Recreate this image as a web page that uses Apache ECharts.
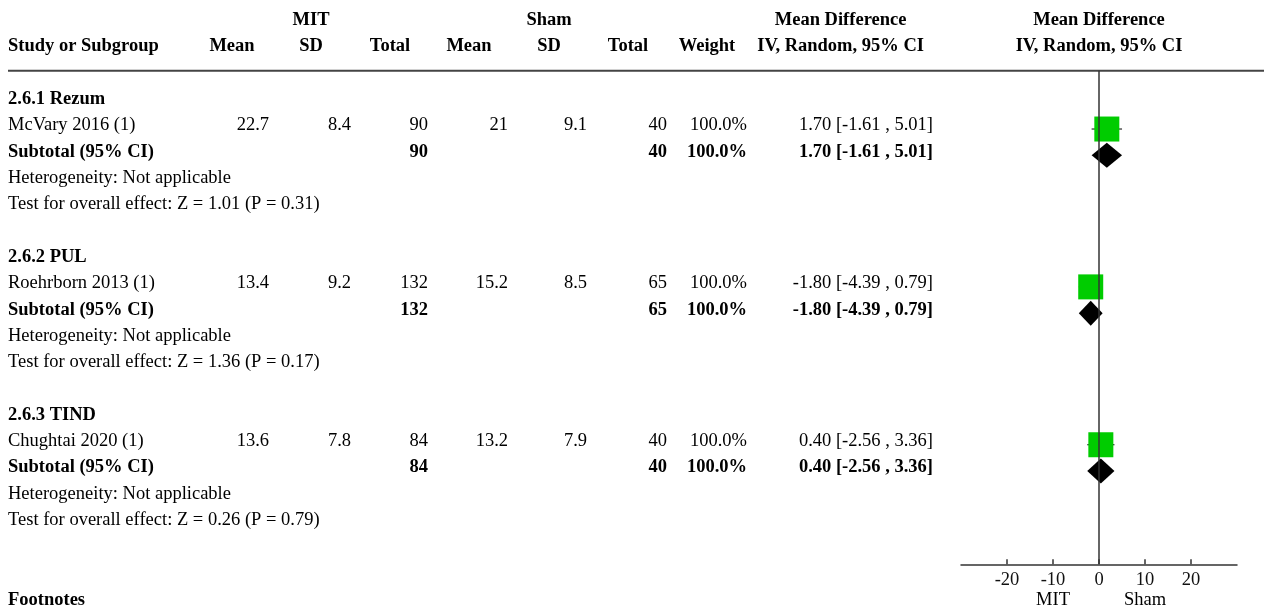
<!DOCTYPE html>
<html>
<head>
<meta charset="utf-8">
<script src="https://cdn.jsdelivr.net/npm/echarts@6/dist/echarts.min.js"></script>
<style>
html,body{margin:0;padding:0;background:#fff;}
#chart{width:1264px;height:612px;}
</style>
</head>
<body>
<div id="chart"></div>
<script>
// ---------- data ----------
const groups = ['2.6.1 Rezum', '2.6.2 PUL', '2.6.3 TIND'];
const studies = ['McVary 2016 (1)', 'Roehrborn 2013 (1)', 'Chughtai 2020 (1)'];
const mitMean = [22.7, 13.4, 13.6];
const mitSD = [8.4, 9.2, 7.8];
const mitN = [90, 132, 84];
const shamMean = [21, 15.2, 13.2];
const shamSD = [9.1, 8.5, 7.9];
const shamN = [40, 65, 40];
const weights = ['100.0%', '100.0%', '100.0%'];
const md = [1.70, -1.80, 0.40];
const ciLow = [-1.61, -4.39, -2.56];
const ciHigh = [5.01, 0.79, 3.36];
const zStat = ['1.01', '1.36', '0.26'];
const pVal = ['0.31', '0.17', '0.79'];
const xTicks = [-20, -10, 0, 10, 20];
const axisSideLabels = [['MIT', -10], ['Sham', 10]];

// ---------- layout ----------
const FONT = '"Liberation Serif","Times New Roman",serif';
const FS = 18.5;
const ROW0 = 99.3, PITCH = 26.31;
const GRID_TOP = 70.7, AXIS_Y = 564.3;
const rowY = r => ROW0 + PITCH * r;
const MARK_OFF = 0.13;
const colRight = {m1: 269, s1: 351, n1: 428, m2: 508, s2: 587, n2: 667, w: 747, ci: 933};
const colHead = {m1: 232, s1: 311, n1: 390, m2: 469, s2: 549, n2: 628, w: 707, ci: 840.6};

const fmt2 = v => v.toFixed(2);
const ciText = i => fmt2(md[i]) + ' [' + fmt2(ciLow[i]) + ' , ' + fmt2(ciHigh[i]) + ']';

const g = [];
function txt(text, x, y, align, bold) {
  g.push({type: 'text', silent: true, style: {text: String(text), x: x, y: y, textAlign: align, textVerticalAlign: 'middle',
    font: (bold ? 'bold ' : '') + FS + 'px ' + FONT, fill: '#000'}});
}
// header
txt('MIT', colHead.s1, 20, 'center', true);
txt('Sham', colHead.s2, 20, 'center', true);
txt('Mean Difference', colHead.ci, 20, 'center', true);
txt('Mean Difference', 1099, 20, 'center', true);
txt('Study or Subgroup', 8, 45.8, 'left', true);
txt('Mean', colHead.m1, 45.8, 'center', true);
txt('SD', colHead.s1, 45.8, 'center', true);
txt('Total', colHead.n1, 45.8, 'center', true);
txt('Mean', colHead.m2, 45.8, 'center', true);
txt('SD', colHead.s2, 45.8, 'center', true);
txt('Total', colHead.n2, 45.8, 'center', true);
txt('Weight', colHead.w, 45.8, 'center', true);
txt('IV, Random, 95% CI', colHead.ci, 45.8, 'center', true);
txt('IV, Random, 95% CI', 1099, 45.8, 'center', true);
g.push({type: 'line', silent: true, shape: {x1: 8, y1: GRID_TOP, x2: 1264, y2: GRID_TOP}, style: {stroke: '#444', lineWidth: 2}});

const squareData = [], diamondData = [];
groups.forEach((name, i) => {
  const b = i * 6;
  txt(name, 8, rowY(b), 'left', true);
  const y1 = rowY(b + 1);
  txt(studies[i], 8, y1, 'left', false);
  txt(mitMean[i], colRight.m1, y1, 'right', false);
  txt(mitSD[i], colRight.s1, y1, 'right', false);
  txt(mitN[i], colRight.n1, y1, 'right', false);
  txt(shamMean[i], colRight.m2, y1, 'right', false);
  txt(shamSD[i], colRight.s2, y1, 'right', false);
  txt(shamN[i], colRight.n2, y1, 'right', false);
  txt(weights[i], colRight.w, y1, 'right', false);
  txt(ciText(i), colRight.ci, y1, 'right', false);
  const y2 = rowY(b + 2);
  txt('Subtotal (95% CI)', 8, y2, 'left', true);
  txt(mitN[i], colRight.n1, y2, 'right', true);
  txt(shamN[i], colRight.n2, y2, 'right', true);
  txt(weights[i], colRight.w, y2, 'right', true);
  txt(ciText(i), colRight.ci, y2, 'right', true);
  txt('Heterogeneity: Not applicable', 8, rowY(b + 3), 'left', false);
  txt('Test for overall effect: Z = ' + zStat[i] + ' (P = ' + pVal[i] + ')', 8, rowY(b + 4), 'left', false);
  squareData.push([md[i], ciLow[i], ciHigh[i], b + 1 + MARK_OFF]);
  diamondData.push([md[i], ciLow[i], ciHigh[i], b + 2 + MARK_OFF]);
});
txt('Footnotes', 8, 600, 'left', true);

const yMin = (GRID_TOP - ROW0) / PITCH, yMax = (AXIS_Y - ROW0) / PITCH;

const chart = echarts.init(document.getElementById('chart'), null, {renderer: 'canvas'});
const option = {
  animation: false,
  backgroundColor: '#fff',
  grid: {left: 961, top: GRID_TOP, width: 276, height: AXIS_Y - GRID_TOP},
  xAxis: {
    type: 'value', min: -30, max: 30, interval: 10, position: 'bottom',
    axisLine: {show: true, onZero: false, lineStyle: {color: '#333', width: 1.5}},
    axisTick: {show: true, inside: true, length: 5, customValues: xTicks, lineStyle: {color: '#333', width: 1.5}},
    axisLabel: {show: true, customValues: xTicks, margin: 6, fontSize: FS, fontFamily: FONT, color: '#111'},
    splitLine: {show: false}
  },
  yAxis: {type: 'value', inverse: true, min: yMin, max: yMax, show: false},
  series: [
    {
      type: 'custom', z: 2, data: squareData,
      renderItem: (params, api) => {
        const r = api.value(3);
        const p = api.coord([api.value(0), r]);
        const pl = api.coord([api.value(1), r]);
        const ph = api.coord([api.value(2), r]);
        const s = 25;
        return {type: 'group', children: [
          {type: 'line', shape: {x1: pl[0], y1: p[1], x2: ph[0], y2: p[1]}, style: {stroke: '#000', lineWidth: 1}},
          {type: 'rect', shape: {x: p[0] - s / 2, y: p[1] - s / 2, width: s, height: s}, style: {fill: '#00cc00'}}
        ]};
      }
    },
    {
      type: 'custom', z: 2, data: diamondData,
      renderItem: (params, api) => {
        const r = api.value(3);
        const p = api.coord([api.value(0), r]);
        const pl = api.coord([api.value(1), r]);
        const ph = api.coord([api.value(2), r]);
        const h = 12.5;
        return {type: 'polygon', shape: {points: [[pl[0], p[1]], [p[0], p[1] - h], [ph[0], p[1]], [p[0], p[1] + h]]}, style: {fill: '#000'}};
      }
    },
    {
      type: 'line', z: 5, symbol: 'none', silent: true,
      data: [[0, yMin], [0, yMax]],
      lineStyle: {color: '#333', width: 1.5}
    }
  ],
  graphic: g
};
chart.setOption(option);
// labels under the axis positioned via the axis scale
const extra = axisSideLabels.map(([t, v]) => {
  const p = chart.convertToPixel({gridIndex: 0}, [v, yMax]);
  return {type: 'text', silent: true, style: {text: t, x: p[0], y: 600.5, textAlign: 'center', textVerticalAlign: 'middle', font: FS + 'px ' + FONT, fill: '#000'}};
});
chart.setOption({graphic: g.concat(extra)}, {replaceMerge: ['graphic']});
</script>
</body>
</html>
